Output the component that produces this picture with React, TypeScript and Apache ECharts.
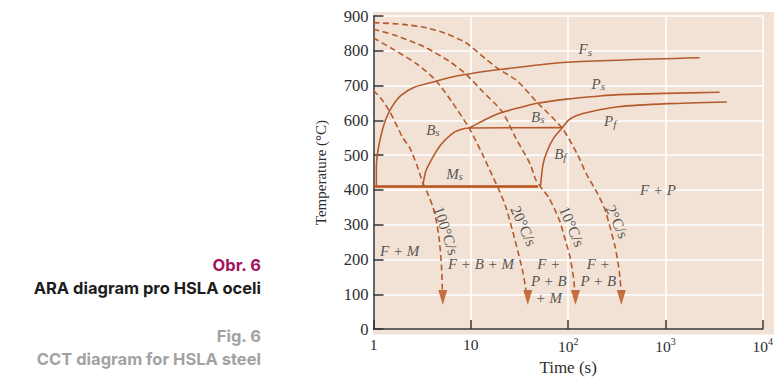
import React, { useEffect, useRef } from "react";
import * as echarts from "echarts";

// ---- data (time in s, temperature in °C) ----
const msLine = [[1.0, 410], [49, 410]];
const fsCurve = [[1.07, 410], [1.07, 465], [1.11, 512], [1.2, 559], [1.35, 606], [1.58, 643], [1.92, 672], [2.63, 695], [4.2, 711], [7.3, 728], [14.9, 742], [21, 747], [97, 767], [2250, 780]];
const bsCurve = [[3.2, 410], [3.46, 455], [4.05, 493], [4.92, 530], [6.3, 560], [7.6, 572], [9.6, 578], [86, 579]];
const psCurve = [[9.6, 578], [12, 592], [15, 606], [21, 623], [31, 636], [48, 649], [97, 661], [195, 669], [330, 674], [3600, 681]];
const bfPfCurve = [[52, 412], [55.3, 474], [60.9, 512], [71, 549], [86.6, 578], [101, 601], [123, 614], [170, 625], [327, 639], [1047, 648], [4265, 653]];
const cool100 = [[1, 686], [1.2, 662], [1.47, 625], [2.01, 549], [2.36, 521], [2.8, 470], [3.22, 420], [3.6, 390], [4.08, 351], [4.5, 300], [4.77, 250], [5.0, 180], [5.1, 112]];
const cool20 = [[1, 837], [1.6, 804], [2.8, 762], [4.4, 714], [6.5, 650], [9.6, 578], [13.2, 502], [16.7, 440], [19.5, 400], [22.9, 351], [27, 280], [31, 215], [34.5, 160], [36.8, 112]];
const cool10 = [[1, 862], [1.6, 846], [2.5, 826], [3.5, 808], [6, 770], [8.9, 733], [13, 685], [21, 625], [29, 549], [40.8, 474], [46.4, 430], [55, 400], [63, 379], [81, 314], [95, 250], [104, 210], [112, 160], [117, 112]];
const cool2 = [[1, 881], [2, 876], [3.5, 866], [5.5, 850], [8.9, 823], [14.3, 776], [19.5, 747], [29.8, 714], [47.6, 653], [86.6, 578], [124, 503], [154, 446], [200, 390], [240, 342], [303, 238], [330, 180], [343, 140], [349, 112]];
const arrowHeads = [[5.15, 91], [38.5, 91], [119, 91], [352, 91]];

// annotation texts and their anchor (time, temperature, rotation)
const annotations: [string, number, number, number][] = [
  ["{i|F}{s|s}", 150, 804, 0],
  ["{i|P}{s|s}", 204, 705, 0],
  ["{i|P}{s|f}", 270, 597, 0],
  ["{i|B}{s|s}", 48.8, 611, 0],
  ["{i|B}{s|f}", 83, 502, 0],
  ["{i|B}{s|s}", 4.08, 573, 0],
  ["{i|M}{s|s}", 6.8, 446, 0],
  ["{i|F + P}", 839, 399, 0],
  ["{i|F + M}", 1.86, 224, 0],
  ["{i|F + B + M}", 12.7, 187, 0],
  ["{i|F +}", 63.3, 187, 0],
  ["{i|P + B}", 63.3, 139, 0],
  ["{i|+ M}", 63.3, 88, 0],
  ["{i|F +}", 204, 187, 0],
  ["{i|P + B}", 204, 139, 0],
  ["{r|100°C/s}", 5.6, 283, -72],
  ["{r|20°C/s}", 35, 297, -66],
  ["{r|10°C/s}", 110, 295, -67],
  ["{r|2°C/s}", 320, 309, -65],
];

const CURVE = "#b55a2c";
const MS = "#b9501c";
const TXT = "#2e2e2e";
const SERIF = "'Liberation Serif', 'Times New Roman', serif";

export default function App() {
  const ref = useRef<HTMLDivElement>(null);
  useEffect(() => {
    if (!ref.current) return;
    const chart = echarts.init(ref.current, undefined, { renderer: "svg" });
    const solid = (data: number[][], color = CURVE, width = 1.6) => ({
      type: "line", data, showSymbol: false, symbol: "none", silent: true,
      lineStyle: { color, width }, smooth: 0.25, z: 3,
    });
    const dashed = (data: number[][]) => ({
      type: "line", data, showSymbol: false, symbol: "none", silent: true,
      lineStyle: { color: CURVE, width: 1.6, type: [6, 3.5] }, smooth: 0.25, z: 3,
    });
    chart.setOption({
      animation: false,
      grid: { left: 373.5, right: 11, top: 16, bottom: 46.5, containLabel: false },
      xAxis: {
        type: "log", logBase: 10, min: 1, max: 10000,
        name: "Time (s)", nameLocation: "middle", nameGap: 29,
        nameTextStyle: { fontFamily: SERIF, fontSize: 17, color: TXT },
        axisLine: { lineStyle: { color: "#333", width: 1.5 } },
        axisTick: { inside: true, length: 9, lineStyle: { color: "#333", width: 1.5 } },
        splitLine: { show: true, lineStyle: { color: "#ffffff", width: 1.5 } },
        minorTick: { show: false },
        axisLabel: {
          margin: 7, fontFamily: SERIF, fontSize: 15.5, color: TXT,
          formatter: (v: number) => {
            const e = Math.round(Math.log10(v));
            if (e === 0) return "1";
            if (e === 1) return "10";
            return "{b|10}{p|" + e + "}";
          },
          rich: {
            b: { fontFamily: SERIF, fontSize: 15.5, color: TXT, lineHeight: 20 },
            p: { fontFamily: SERIF, fontSize: 10, color: TXT, lineHeight: 10, verticalAlign: "top" },
          },
        },
      },
      yAxis: {
        type: "value", min: 0, max: 900, interval: 100,
        name: "Temperature (°C)", nameLocation: "middle", nameGap: 45, nameRotate: 90,
        nameTextStyle: { fontFamily: SERIF, fontSize: 15, color: TXT },
        axisLine: { show: true, lineStyle: { color: "#333", width: 1.5 } },
        axisTick: { show: true, inside: true, length: 10, lineStyle: { color: "#333", width: 1.5 } },
        splitLine: { show: true, lineStyle: { color: "#ffffff", width: 1.5 } },
        axisLabel: { margin: 5, fontFamily: SERIF, fontSize: 16.5, color: TXT },
      },
      graphic: [
        { type: "rect", z: -10, silent: true, shape: { x: 373, y: 12, width: 401, height: 322.5 }, style: { fill: "#f1e2d5" } },
        { type: "text", right: 515, top: 256, style: { text: "Obr. 6", font: "bold 16.5px Inter", fill: "#a3135c", textAlign: "right" } },
        { type: "text", right: 515, top: 279, style: { text: "ARA diagram pro HSLA oceli", font: "bold 16.5px Inter", fill: "#1c1c1c", textAlign: "right" } },
        { type: "text", right: 515, top: 327, style: { text: "Fig. 6", font: "bold 16.5px Inter", fill: "#a2a2a2", textAlign: "right" } },
        { type: "text", right: 515, top: 350, style: { text: "CCT diagram for HSLA steel", font: "bold 16.5px Inter", fill: "#a2a2a2", textAlign: "right" } },
      ],
      series: [
        solid(msLine, MS, 2.6),
        solid(fsCurve),
        solid(bsCurve),
        solid(psCurve),
        solid(bfPfCurve),
        dashed(cool100),
        dashed(cool20),
        dashed(cool10),
        dashed(cool2),
        {
          type: "scatter", data: arrowHeads, symbol: "triangle", symbolRotate: 180,
          symbolSize: [9, 15], itemStyle: { color: MS }, silent: true, z: 4,
        },
        {
          type: "scatter", symbolSize: 0, silent: true, z: 5,
          data: annotations.map(([t, x, y, r]) => ({
            value: [x, y],
            label: { show: true, formatter: t, rotate: r, position: "inside" },
          })),
          label: {
            show: true, position: "inside", color: TXT,
            rich: {
              i: { fontFamily: SERIF, fontStyle: "italic", fontSize: 15, color: TXT, lineHeight: 16 },
              s: { fontFamily: SERIF, fontStyle: "italic", fontSize: 11, color: TXT, lineHeight: 8, verticalAlign: "bottom" },
              r: { fontFamily: SERIF, fontSize: 15.5, color: TXT },
            },
          },
        },
      ],
    });
    return () => chart.dispose();
  }, []);
  return <div ref={ref} style={{ position: "absolute", left: 0, top: 0, width: 776, height: 381 }} />;
}
